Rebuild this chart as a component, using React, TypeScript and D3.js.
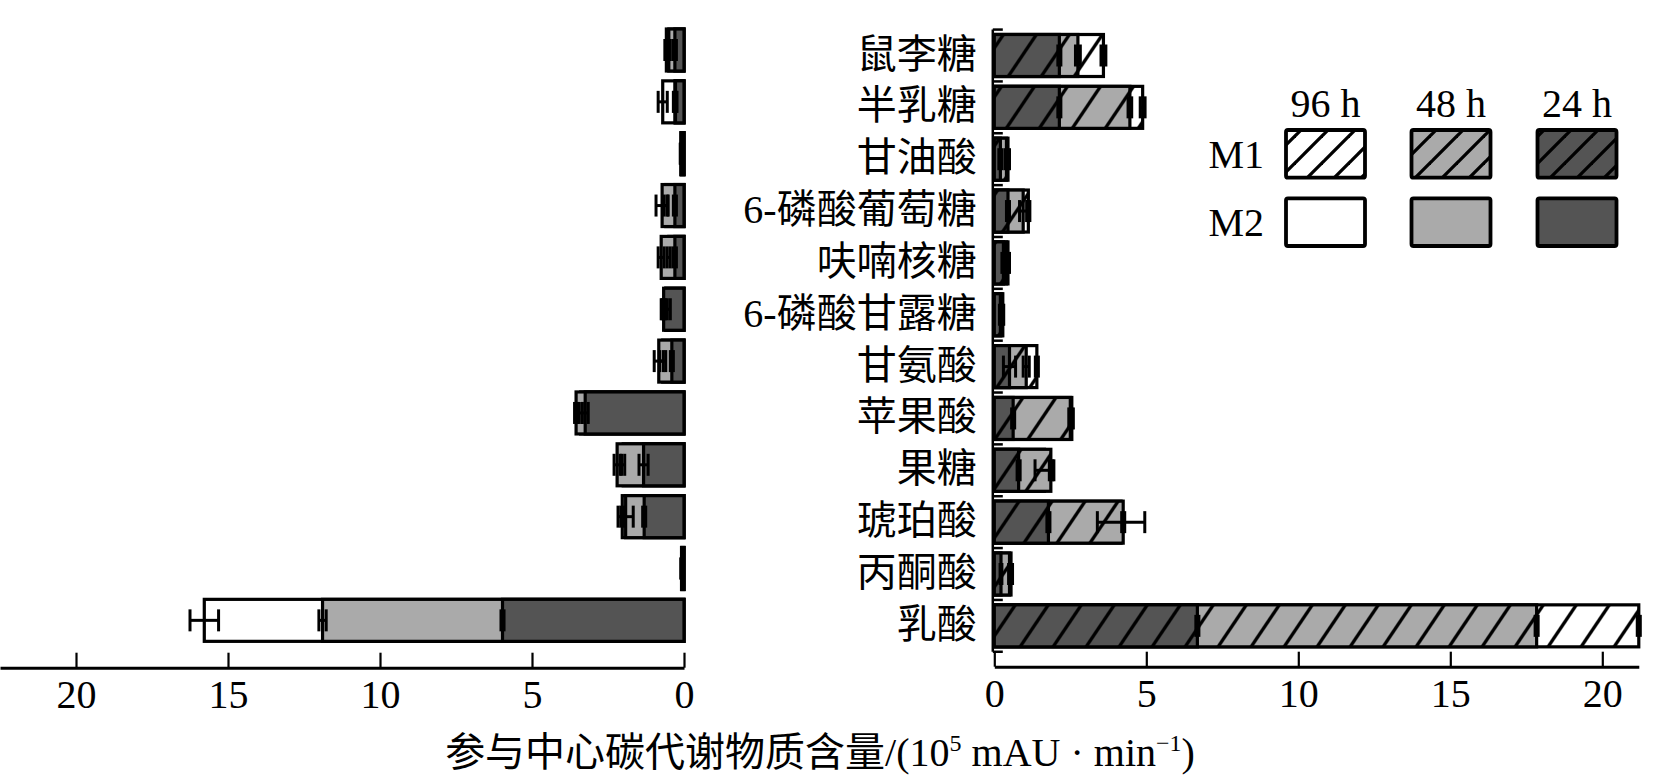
import React, { useRef, useEffect } from "react";
import * as d3 from "d3";

// Categories (top to bottom)
const categories = [
  "鼠李糖",
  "半乳糖",
  "甘油酸",
  "6-磷酸葡萄糖",
  "呋喃核糖",
  "6-磷酸甘露糖",
  "甘氨酸",
  "苹果酸",
  "果糖",
  "琥珀酸",
  "丙酮酸",
  "乳酸",
];
const timeLabels = ["96 h", "48 h", "24 h"];
const groupLabels = ["M1", "M2"];
const xTicks = [0, 5, 10, 15, 20];

// M1 (right side, hatched) values and errors, 10^5 mAU·min^-1
const m1Values96 = [3.59, 4.88, 0.45, 1.12, 0.45, 0.28, 1.4, 2.55, 1.65, 4.17, 0.55, 21.2];
const m1Errors96 = [0.08, 0.08, 0.05, 0.05, 0.05, 0.03, 0.05, 0.05, 0.31, 0.78, 0.05, 0.05];
const m1Values48 = [2.75, 4.46, 0.4, 0.95, 0.4, 0.25, 1.05, 2.5, 1.86, 4.24, 0.5, 17.84];
const m1Errors48 = [0.08, 0.06, 0.05, 0.12, 0.05, 0.03, 0.1, 0.05, 0.05, 0.05, 0.03, 0.05];
const m1Values24 = [2.14, 2.14, 0.2, 0.45, 0.3, 0.2, 0.5, 0.62, 0.8, 1.78, 0.22, 6.68];
const m1Errors24 = [0.05, 0.05, 0.05, 0.05, 0.05, 0.03, 0.2, 0.05, 0.05, 0.05, 0.03, 0.05];

// M2 (left side, solid)
const m2Values96 = [0.58, 0.7, 0.1, 0.6, 0.5, 0.6, 0.7, 3.4, 2.0, 2.03, 0.08, 15.78];
const m2Errors96 = [0.05, 0.15, 0.02, 0.05, 0.05, 0.15, 0.1, 0.05, 0.05, 0.05, 0.02, 0.47];
const m2Values48 = [0.5, 0.3, 0.1, 0.72, 0.75, 0.6, 0.83, 3.55, 2.2, 1.92, 0.08, 11.89];
const m2Errors48 = [0.05, 0.05, 0.02, 0.2, 0.1, 0.05, 0.15, 0.05, 0.1, 0.25, 0.02, 0.12];
const m2Values24 = [0.3, 0.28, 0.08, 0.3, 0.3, 0.67, 0.4, 3.25, 1.33, 1.31, 0.06, 5.97];
const m2Errors24 = [0.05, 0.05, 0.02, 0.05, 0.05, 0.05, 0.05, 0.1, 0.15, 0.05, 0.02, 0.05];

const fills = ["#ffffff", "#aaaaaa", "#545454"];
const FONT = "'Liberation Serif', 'Noto Sans CJK SC', serif";

const App: React.FC = () => {
  const svgRef = useRef<SVGSVGElement | null>(null);

  useEffect(() => {
    if (!svgRef.current) return;
    const svg = d3.select(svgRef.current);
    svg.selectAll("*").remove();

    // Hatch patterns
    const defs = svg.append("defs");
    const makeHatch = (id: string, bg: string, w: number, h: number) => {
      const p = defs
        .append("pattern")
        .attr("id", id)
        .attr("patternUnits", "userSpaceOnUse")
        .attr("width", w)
        .attr("height", h);
      p.append("rect").attr("width", w).attr("height", h).attr("fill", bg);
      [-w, 0, w].forEach((o) => {
        p.append("line")
          .attr("x1", o - w / 2)
          .attr("y1", h * 1.5)
          .attr("x2", o + w * 1.5)
          .attr("y2", -h / 2)
          .attr("stroke", "#000")
          .attr("stroke-width", 3.3);
      });
    };
    fills.forEach((f, i) => {
      makeHatch(`hatch${i}`, f, 33, 49);
      makeHatch(`lhatch${i}`, f, 27, 27);
    });

    const yScale = d3
      .scaleBand()
      .domain(categories)
      .range([19.15, 651.2])
      .padding(0.19);
    const bw = yScale.bandwidth();

    const xLeft = d3.scaleLinear().domain([0, 22.5]).range([684, 0]);
    const xRight = d3.scaleLinear().domain([0, 21.2]).range([994.3, 994.3 + 21.2 * 30.4]);

    const drawPanel = (
      g: d3.Selection<SVGGElement, unknown, null, undefined>,
      x: d3.ScaleLinear<number, number>,
      series: { values: number[]; errors: number[] }[],
      hatched: boolean
    ) => {
      series.forEach((s, si) => {
        g.append("g")
          .selectAll("rect")
          .data(categories)
          .enter()
          .append("rect")
          .attr("x", (_d, i) => Math.min(x(0), x(s.values[i])))
          .attr("y", (d) => yScale(d)!)
          .attr("width", (_d, i) => Math.abs(x(s.values[i]) - x(0)))
          .attr("height", bw)
          .attr("fill", hatched ? `url(#hatch${si})` : fills[si])
          .attr("stroke", "#000")
          .attr("stroke-width", 3.2);
      });
      series.forEach((s) => {
        const eg = g.append("g").attr("stroke", "#000").attr("stroke-width", 3);
        categories.forEach((c, i) => {
          const cy = yScale(c)! + bw / 2;
          const a = x(s.values[i] - s.errors[i]);
          const b = x(s.values[i] + s.errors[i]);
          eg.append("line").attr("x1", a).attr("x2", b).attr("y1", cy).attr("y2", cy);
          [a, b].forEach((xx) =>
            eg.append("line").attr("x1", xx).attr("x2", xx).attr("y1", cy - 11).attr("y2", cy + 11)
          );
        });
      });
    };

    // Left panel (M2)
    const left = svg.append("g");
    drawPanel(
      left,
      xLeft,
      [
        { values: m2Values96, errors: m2Errors96 },
        { values: m2Values48, errors: m2Errors48 },
        { values: m2Values24, errors: m2Errors24 },
      ],
      false
    );

    // Right panel (M1)
    const right = svg.append("g").attr("transform", "translate(0,5.5)");
    drawPanel(
      right,
      xRight,
      [
        { values: m1Values96, errors: m1Errors96 },
        { values: m1Values48, errors: m1Errors48 },
        { values: m1Values24, errors: m1Errors24 },
      ],
      true
    );

    // Right vertical axis with ticks at band edges
    const step = yScale.step();
    const edges = categories.map((c) => yScale(c)! + bw / 2 - step / 2);
    edges.push(yScale(categories[categories.length - 1])! + bw / 2 + step / 2);
    const ax0 = xRight(0) - 1.5;
    right
      .append("line")
      .attr("x1", ax0)
      .attr("x2", ax0)
      .attr("y1", edges[0])
      .attr("y2", edges[edges.length - 1])
      .attr("stroke", "#000")
      .attr("stroke-width", 2.5);
    right
      .append("g")
      .selectAll("line")
      .data(edges)
      .enter()
      .append("line")
      .attr("x1", ax0)
      .attr("x2", ax0 + 10)
      .attr("y1", (d) => d)
      .attr("y2", (d) => d)
      .attr("stroke", "#000")
      .attr("stroke-width", 2.5);

    // Category labels
    svg
      .append("g")
      .selectAll("text")
      .data(categories)
      .enter()
      .append("text")
      .attr("x", 976.7)
      .attr("y", (d) => yScale(d)! + bw / 2 + 4)
      .attr("text-anchor", "end")
      .attr("dominant-baseline", "central")
      .attr("font-family", FONT)
      .attr("font-size", 40)
      .text((d) => d);

    // X axes
    const styleAxis = (g: d3.Selection<SVGGElement, unknown, null, undefined>) => {
      g.select(".domain").attr("stroke-width", 3);
      g.selectAll(".tick line").attr("stroke-width", 2.2);
      g.selectAll(".tick text").attr("font-family", FONT).attr("font-size", 40).attr("fill", "#000");
    };
    const leftAxis = svg
      .append("g")
      .attr("transform", "translate(0,667.7)")
      .call(d3.axisBottom(xLeft).tickValues(xTicks).tickSize(-15).tickSizeOuter(0).tickPadding(12).tickFormat(d3.format("d")));
    styleAxis(leftAxis);
    const rightAxis = svg
      .append("g")
      .attr("transform", "translate(0,666.7)")
      .call(d3.axisBottom(xRight).tickValues(xTicks).tickSize(-15).tickSizeOuter(0).tickPadding(12).tickFormat(d3.format("d")));
    styleAxis(rightAxis);

    // Axis title
    const title = svg
      .append("text")
      .attr("x", 820)
      .attr("y", 766)
      .attr("text-anchor", "middle")
      .attr("font-family", FONT)
      .attr("font-size", 40);
    title.append("tspan").text("参与中心碳代谢物质含量/(10");
    title.append("tspan").attr("font-size", 24).attr("dy", -15).text("5");
    title.append("tspan").attr("dy", 15).text(" mAU · min");
    title.append("tspan").attr("font-size", 24).attr("dy", -15).text("−1");
    title.append("tspan").attr("dy", 15).text(")");

    // Legend
    const legend = svg.append("g");
    const colX = [1286, 1411.5, 1537.5];
    const rowY = [130, 198.3];
    const boxW = 79;
    const boxH = 47.7;
    timeLabels.forEach((t, i) => {
      legend
        .append("text")
        .attr("x", colX[i] + boxW / 2)
        .attr("y", 117)
        .attr("text-anchor", "middle")
        .attr("font-family", FONT)
        .attr("font-size", 40)
        .text(t);
    });
    groupLabels.forEach((gl, r) => {
      legend
        .append("text")
        .attr("x", 1264)
        .attr("y", rowY[r] + boxH / 2 + 14)
        .attr("text-anchor", "end")
        .attr("font-family", FONT)
        .attr("font-size", 40)
        .text(gl);
      timeLabels.forEach((_t, i) => {
        legend
          .append("rect")
          .attr("x", colX[i])
          .attr("y", rowY[r])
          .attr("width", boxW)
          .attr("height", boxH)
          .attr("rx", 2)
          .attr("fill", r === 0 ? `url(#lhatch${i})` : fills[i])
          .attr("stroke", "#000")
          .attr("stroke-width", 3.8);
      });
    });
  }, []);

  return (
    <svg
      ref={svgRef}
      width={1679}
      height={784}
      style={{ position: "absolute", left: 0, top: 0, background: "#fff" }}
    />
  );
};

export default App;
